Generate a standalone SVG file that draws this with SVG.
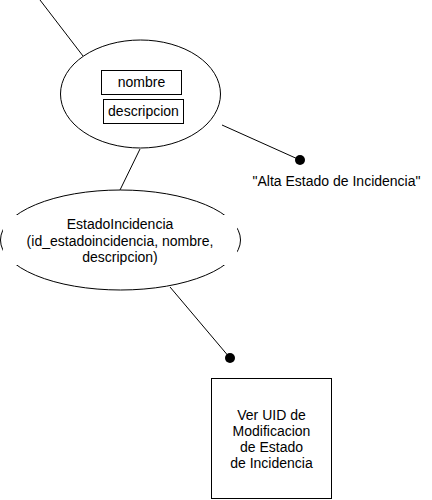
<svg xmlns="http://www.w3.org/2000/svg" width="432" height="500" viewBox="0 0 432 500">
<style>
.s{fill:#fff;stroke:#000;stroke-width:1}
.l{fill:none;stroke:#000;stroke-width:1}
.t{font-family:"Liberation Sans",Arial,sans-serif;font-size:14px;fill:#000;text-anchor:middle}
</style>
<rect width="432" height="500" fill="#fff"/>
<g id="connectors">
<line class="l" x1="40" y1="0" x2="83" y2="56"/>
<line class="l" x1="140" y1="149" x2="120" y2="190"/>
<line class="l" x1="222" y1="125" x2="300" y2="160"/>
<circle cx="300" cy="160" r="5" fill="#000"/>
<line class="l" x1="170" y1="287" x2="230" y2="358"/>
<circle cx="230" cy="358" r="5" fill="#000"/>
</g>
<g id="ellipse1">
<ellipse class="s" cx="140.5" cy="94" rx="80" ry="54"/>
</g>
<g id="nombre">
<rect class="s" x="101.5" y="70.5" width="80" height="24"/>
<text class="t" x="141.5" y="87">nombre</text>
</g>
<g id="descripcion">
<rect class="s" x="103.5" y="99.5" width="80" height="24"/>
<text class="t" x="143.5" y="115.5">descripcion</text>
</g>
<g id="estadoIncidencia">
<ellipse class="s" cx="120.5" cy="240" rx="120" ry="50"/>
<rect x="3" y="215" width="234" height="50" fill="#fff"/>
<text class="t" x="120" y="229">EstadoIncidencia</text>
<text class="t" x="120" y="245.5">(id_estadoincidencia, nombre,</text>
<text class="t" x="120" y="262">descripcion)</text>
</g>
<g id="altaLabel">
<text class="t" x="336.5" y="185.5">"Alta Estado de Incidencia"</text>
</g>
<g id="verUID">
<rect class="s" x="211.5" y="378.5" width="120" height="120"/>
<text class="t" x="271.5" y="419.5">Ver UID de</text>
<text class="t" x="271.5" y="435.5">Modificacion</text>
<text class="t" x="271.5" y="451.5">de Estado</text>
<text class="t" x="271.5" y="467.5">de Incidencia</text>
</g>
</svg>
